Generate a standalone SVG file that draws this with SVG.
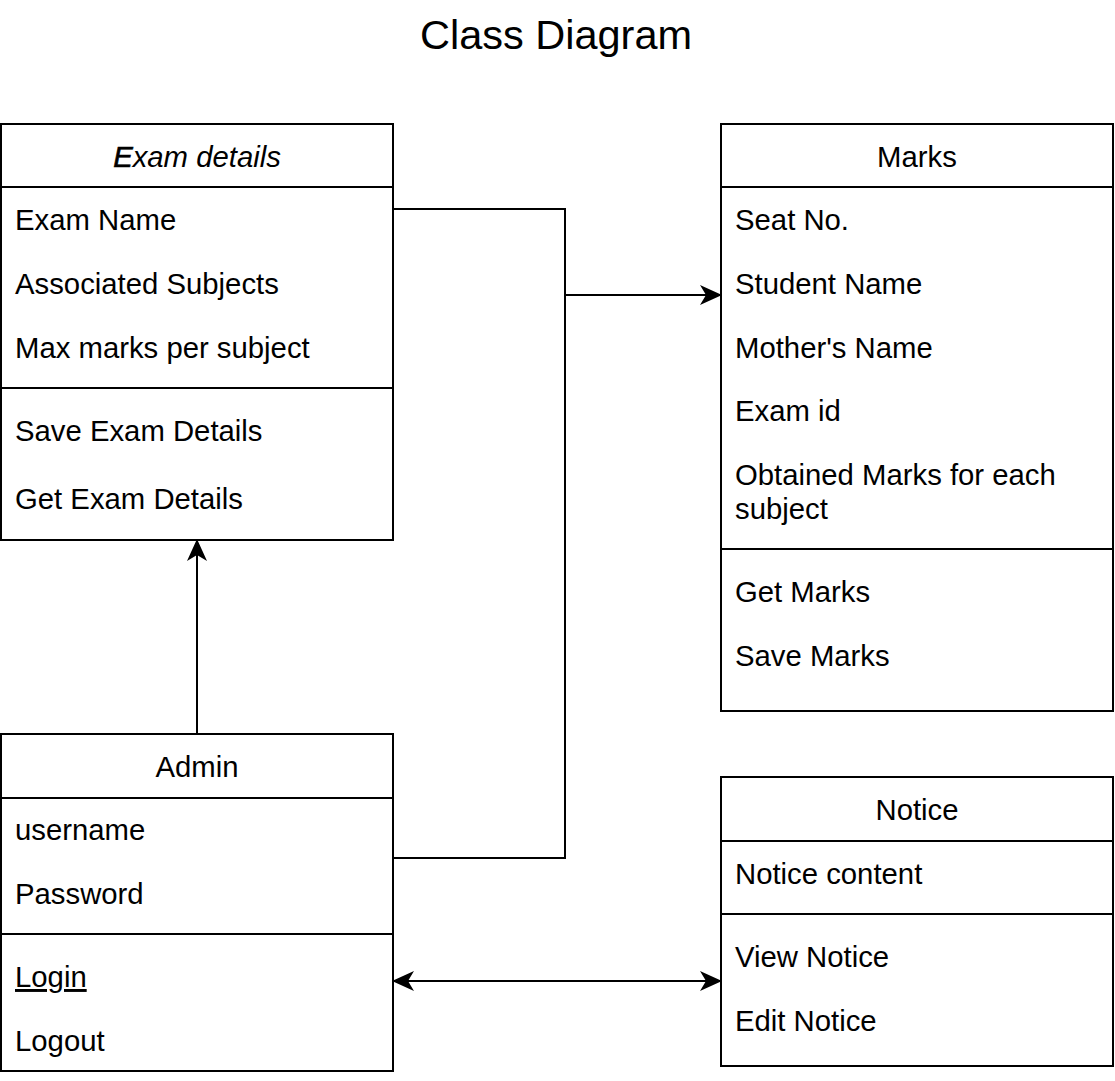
<svg xmlns="http://www.w3.org/2000/svg" width="1115" height="1081" viewBox="0 0 1115 1081">
<defs>
<style>
text{font-family:"Liberation Sans",Arial,sans-serif;fill:#000;}
.t{font-size:29.3px;}
.h{font-size:29.3px;text-anchor:middle;}
.title{font-size:41.5px;text-anchor:middle;}
.box{fill:#fff;stroke:#000;stroke-width:2;}
.ln{stroke:#000;stroke-width:2;fill:none;}
</style>
<marker id="arr" viewBox="0 0 22 20" refX="21" refY="10" markerWidth="22" markerHeight="20" markerUnits="userSpaceOnUse" orient="auto-start-reverse">
<path d="M0,0 L22,10 L0,20 L6,10 Z" fill="#000"/>
</marker>
</defs>
<rect width="1115" height="1081" fill="#fff"/>
<text class="title" x="556" y="49">Class Diagram</text>

<g id="exam-details">
<rect class="box" x="1" y="124" width="392" height="416"/>
<line class="ln" x1="1" y1="187" x2="393" y2="187"/>
<line class="ln" x1="1" y1="388" x2="393" y2="388"/>
<text class="h" x="197" y="167" font-style="italic"><tspan stroke="#000" stroke-width="0.7">E</tspan>xam details</text>
<text class="t" x="15" y="230">Exam Name</text>
<text class="t" x="15" y="294">Associated Subjects</text>
<text class="t" x="15" y="358">Max marks per subject</text>
<text class="t" x="15" y="441">Save Exam Details</text>
<text class="t" x="15" y="509">Get Exam Details</text>
</g>

<g id="marks">
<rect class="box" x="721" y="124" width="392" height="587"/>
<line class="ln" x1="721" y1="187" x2="1113" y2="187"/>
<line class="ln" x1="721" y1="549" x2="1113" y2="549"/>
<text class="h" x="917" y="167">Marks</text>
<text class="t" x="735" y="230">Seat No.</text>
<text class="t" x="735" y="294">Student Name</text>
<text class="t" x="735" y="358">Mother's Name</text>
<text class="t" x="735" y="421">Exam id</text>
<text class="t" x="735" y="485">Obtained Marks for each</text>
<text class="t" x="735" y="519">subject</text>
<text class="t" x="735" y="602">Get Marks</text>
<text class="t" x="735" y="666">Save Marks</text>
</g>

<g id="admin">
<rect class="box" x="1" y="734" width="392" height="337"/>
<line class="ln" x1="1" y1="798" x2="393" y2="798"/>
<line class="ln" x1="1" y1="934" x2="393" y2="934"/>
<text class="h" x="197" y="777">Admin</text>
<text class="t" x="15" y="840">username</text>
<text class="t" x="15" y="904">Password</text>
<text class="t" x="15" y="987" text-decoration="underline">Login</text>
<text class="t" x="15" y="1051">Logout</text>
</g>

<g id="notice">
<rect class="box" x="721" y="777" width="392" height="289"/>
<line class="ln" x1="721" y1="841" x2="1113" y2="841"/>
<line class="ln" x1="721" y1="914" x2="1113" y2="914"/>
<text class="h" x="917" y="820">Notice</text>
<text class="t" x="735" y="884">Notice content</text>
<text class="t" x="735" y="967">View Notice</text>
<text class="t" x="735" y="1031">Edit Notice</text>
</g>

<g id="connectors">
<polyline class="ln" points="393,209 565,209 565,858 393,858"/>
<line class="ln" x1="565" y1="295" x2="721" y2="295" marker-end="url(#arr)"/>
<line class="ln" x1="197" y1="734" x2="197" y2="540" marker-end="url(#arr)"/>
<line class="ln" x1="393" y1="981" x2="721" y2="981" marker-start="url(#arr)" marker-end="url(#arr)"/>
</g>
</svg>
